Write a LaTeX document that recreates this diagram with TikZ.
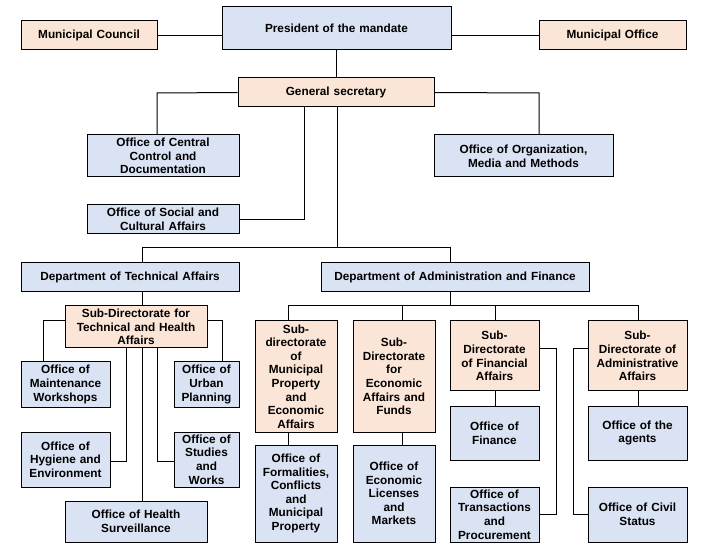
\documentclass[tikz,border=0pt]{standalone}
\usepackage{fontspec}
\setmainfont{Liberation Sans}
\definecolor{boxblue}{HTML}{DAE3F3}
\definecolor{boxpeach}{HTML}{FBE5D6}
\begin{document}
\begin{tikzpicture}[x=1pt,y=-1pt,
  box/.style={draw=black, line width=1pt, inner sep=0pt, align=center,
    font=\fontsize{11.8}{13.6}\selectfont\bfseries},
  blu/.style={box, fill=boxblue},
  pch/.style={box, fill=boxpeach},
  conn/.style={draw=black, line width=1pt}]
\useasboundingbox (0,0) rectangle (713,548);
\fill[white] (0,0) rectangle (713,548);
% top level
\node[pch, text width=136pt, minimum height=29pt] (mc) at (89,35.5) {Municipal Council};
\node[blu, text width=229pt, minimum height=43pt] (pres) at (336.5,28.5) {President of the mandate};
\node[pch, text width=147pt, minimum height=29pt] (mo) at (612.5,35.5) {Municipal Office};
\node[pch, text width=196pt, minimum height=29pt] (gs) at (336,92.5) {General secretary};
\node[blu, text width=152pt, minimum height=42pt] (occ) at (163,156) {Office of Central\\Control and\\Documentation};
\node[blu, text width=152pt, minimum height=29pt] (osc) at (163,219.5) {Office of Social and\\Cultural Affairs};
\node[blu, text width=179pt, minimum height=42pt] (oom) at (523.5,156) {Office of Organization,\\Media and Methods};
\node[blu, text width=218pt, minimum height=29pt] (dta) at (130,277.5) {Department of Technical Affairs};
\node[blu, text width=268pt, minimum height=29pt] (daf) at (455,277.5) {Department of Administration and Finance};
% technical
\node[pch, text width=142pt, minimum height=42pt] (sdt) at (136,327) {Sub-Directorate for\\Technical and Health\\Affairs};
\node[blu, text width=89pt, minimum height=45pt] (omw) at (65.5,384.5) {Office of\\Maintenance\\Workshops};
\node[blu, text width=65pt, minimum height=45pt] (oup) at (206.5,384.5) {Office of\\Urban\\Planning};
\node[blu, text width=89pt, minimum height=55pt] (ohe) at (65.5,459.5) {Office of\\Hygiene and\\Environment};
\node[blu, text width=65pt, minimum height=55pt] (osw) at (206.5,459.5) {Office of\\Studies\\and\\Works};
\node[blu, text width=142pt, minimum height=41pt] (ohs) at (136,521.5) {Office of Health\\Surveillance};
% administration
\node[pch, text width=82pt, minimum height=111pt] (sdm) at (296,376.5) {Sub-\\directorate\\of\\Municipal\\Property\\and\\Economic\\Affairs};
\node[pch, text width=82pt, minimum height=111pt] (sde) at (394,376.5) {Sub-\\Directorate\\for\\Economic\\Affairs and\\Funds};
\node[blu, text width=82pt, minimum height=97pt] (ofc) at (296,493.5) {Office of\\Formalities,\\Conflicts\\and\\Municipal\\Property};
\node[blu, text width=82pt, minimum height=97pt] (oel) at (394,493.5) {Office of\\Economic\\Licenses\\and\\Markets};
\node[pch, text width=89pt, minimum height=70pt] (sdf) at (494.5,356) {Sub-\\Directorate\\of Financial\\Affairs};
\node[blu, text width=89pt, minimum height=54pt] (ofi) at (494.5,433) {Office of\\Finance};
\node[blu, text width=89pt, minimum height=55pt] (otp) at (494.5,514.5) {Office of\\Transactions\\and\\Procurement};
\node[pch, text width=99pt, minimum height=70pt] (sda) at (637.5,356) {Sub-\\Directorate of\\Administrative\\Affairs};
\node[blu, text width=99pt, minimum height=54pt] (oag) at (637.5,433) {Office of the\\agents};
\node[blu, text width=99pt, minimum height=55pt] (ocs) at (637.5,514.5) {Office of Civil\\Status};
% tap coordinates
\coordinate (xa) at (157,93);
\coordinate (xb) at (539,93);
\coordinate (xc) at (304,220);
\coordinate (bus1) at (337,248);
\coordinate (xd) at (142,248);
\coordinate (xe) at (450,248);
\coordinate (xf) at (43,321);
\coordinate (xg) at (222,321);
\coordinate (xh) at (126,461);
\coordinate (xi) at (157,461);
\coordinate (bus2) at (288,306);
\coordinate (xj) at (402,306);
\coordinate (xk) at (495,306);
\coordinate (xl) at (638,306);
\coordinate (xm) at (556,349);
\coordinate (xn) at (573,349);
% connectors
\draw[conn] (mc.east) -- (mc.east -| pres.west);
\draw[conn] (mo.west) -- (mo.west -| pres.east);
\draw[conn] (pres.south) -- (pres.south |- gs.north);
\draw[conn] (gs.west) -- (xa) -- (xa |- occ.north);
\draw[conn] (gs.east) -- (xb) -- (xb |- oom.north);
\draw[conn] (xc |- gs.south) -- (xc) -- (xc -| osc.east);
\draw[conn] (bus1 |- gs.south) -- (bus1);
\draw[conn] (xd |- dta.north) -- (xd) -- (xe) -- (xe |- daf.north);
% technical
\draw[conn] (xd |- dta.south) -- (xd |- sdt.north);
\draw[conn] (xf -| sdt.west) -- (xf) -- (xf |- omw.north);
\draw[conn] (xg -| sdt.east) -- (xg) -- (xg |- oup.north);
\draw[conn] (xh |- sdt.south) -- (xh) -- (xh -| ohe.east);
\draw[conn] (xi |- sdt.south) -- (xi) -- (xi -| osw.west);
\draw[conn] (xd |- sdt.south) -- (xd |- ohs.north);
% administration
\draw[conn] (xe |- daf.south) -- (xe |- bus2);
\draw[conn] (bus2 |- sdm.north) -- (bus2) -- (xl) -- (xl |- sda.north);
\draw[conn] (xj) -- (xj |- sde.north);
\draw[conn] (xk) -- (xk |- sdf.north);
\draw[conn] (bus2 |- sdm.south) -- (bus2 |- ofc.north);
\draw[conn] (xj |- sde.south) -- (xj |- oel.north);
\draw[conn] (xk |- sdf.south) -- (xk |- ofi.north);
\draw[conn] (xl |- sda.south) -- (xl |- oag.north);
\draw[conn] (xm -| sdf.east) -- (xm) -- (xm |- otp.east) -- (otp.east);
\draw[conn] (xn -| sda.west) -- (xn) -- (xn |- ocs.west) -- (ocs.west);
\end{tikzpicture}
\end{document}
